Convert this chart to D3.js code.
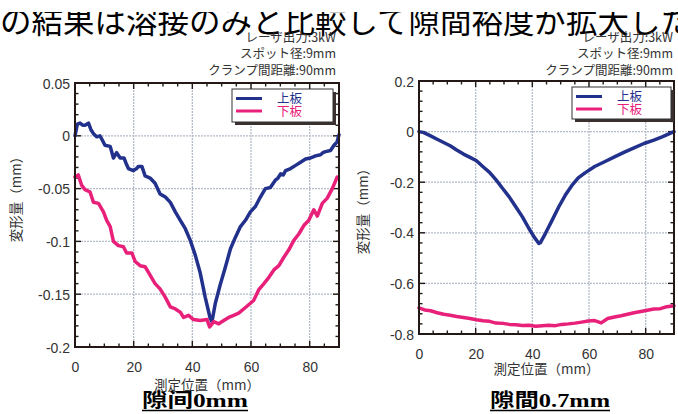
<!DOCTYPE html>
<html><head><meta charset="utf-8">
<script src="https://cdn.jsdelivr.net/npm/d3@7"></script>
<style>html,body{margin:0;padding:0;background:#fff;overflow:hidden}</style>
</head><body>
<svg id="c" width="678" height="414"></svg>
<script>
// ---------- data ----------
const headline = "の結果は溶接のみと比較して隙間裕度が拡大した";
const notes = ["レーザ出力:3kW", "スポット径:9mm", "クランプ間距離:90mm"];
const seriesNames = ["上板", "下板"];
const xTickValues = [0, 20, 40, 60, 80];
const yTicksLeft = [0.05, 0, -0.05, -0.1, -0.15, -0.2];
const yTicksRight = [0.2, 0, -0.2, -0.4, -0.6, -0.8];
const xTitle = "測定位置（mm）";
const yTitle = "変形量（mm）";
const captions = ["隙间0mm", "隙間0.7mm"];

// gap 0 mm : upper plate
const upper0 = [[0,0],[0.8,0.011],[1.7,0.012],[2.6,0.01],[3.4,0.01],[4.6,0.012],[5.4,0.006],[6.3,0.002],[7.4,-0.001],[8.5,0],[9.3,-0.004],[10.2,-0.009],[12,-0.01],[13.1,-0.021],[14.2,-0.016],[15.4,-0.021],[16.7,-0.021],[17.4,-0.026],[18.2,-0.031],[19.9,-0.033],[21,-0.031],[21.6,-0.029],[22.8,-0.029],[23.9,-0.038],[25.6,-0.04],[27.3,-0.045],[29,-0.055],[30.8,-0.058],[32.5,-0.063],[34.2,-0.072],[35.9,-0.08],[37.6,-0.088],[39.3,-0.099],[41,-0.113],[42.7,-0.13],[44.4,-0.153],[46.1,-0.173],[46.7,-0.176],[47.8,-0.159],[49.5,-0.141],[51.3,-0.124],[53,-0.107],[54.7,-0.096],[56.4,-0.086],[58.1,-0.08],[59.8,-0.072],[61.5,-0.067],[63.2,-0.058],[64.9,-0.05],[66.6,-0.049],[68.3,-0.042],[69.2,-0.04],[70.1,-0.036],[71,-0.037],[71.8,-0.033],[73.5,-0.031],[75.2,-0.028],[76.9,-0.025],[78.6,-0.022],[80.3,-0.021],[81.2,-0.02],[82,-0.019],[83.7,-0.018],[84.5,-0.016],[85.4,-0.015],[87.1,-0.014],[88.3,-0.009],[89.3,-0.006],[90,0.001]];
// gap 0 mm : lower plate
const lower0 = [[0,-0.039],[1.1,-0.037],[2.3,-0.047],[3.4,-0.051],[5.1,-0.053],[6.3,-0.063],[8,-0.064],[9.7,-0.072],[10.8,-0.08],[12,-0.086],[13.1,-0.1],[14.8,-0.104],[16.5,-0.105],[17.6,-0.111],[19.4,-0.111],[20.5,-0.119],[22.2,-0.123],[23.9,-0.124],[25.6,-0.132],[27.3,-0.14],[29,-0.145],[30.8,-0.153],[32.5,-0.162],[34.2,-0.164],[35.9,-0.167],[37,-0.172],[38.7,-0.17],[40.4,-0.174],[42.7,-0.175],[45,-0.174],[45.9,-0.181],[47.3,-0.176],[49,-0.178],[50.7,-0.175],[52.4,-0.172],[54.1,-0.17],[55.8,-0.168],[57.5,-0.164],[59.2,-0.16],[60.9,-0.156],[62.6,-0.146],[64.4,-0.14],[66.1,-0.134],[67.8,-0.127],[69.5,-0.123],[71.2,-0.115],[72.9,-0.108],[74.6,-0.099],[76.3,-0.093],[78,-0.085],[79.7,-0.08],[81.4,-0.07],[82.6,-0.076],[84.3,-0.064],[86,-0.059],[87.7,-0.05],[89.4,-0.039]];
// gap 0.7 mm : upper plate
const upper07 = [[0,0],[1.7,-0.004],[4.1,-0.017],[6.4,-0.03],[8.7,-0.043],[11,-0.056],[13.3,-0.073],[15.7,-0.089],[18,-0.102],[20.3,-0.115],[22.6,-0.139],[24.9,-0.161],[27.2,-0.191],[29.6,-0.226],[31.9,-0.259],[34.2,-0.298],[36.5,-0.337],[38.8,-0.383],[40.6,-0.416],[42.3,-0.442],[42.9,-0.438],[44.6,-0.403],[47,-0.35],[49.3,-0.298],[51.6,-0.252],[53.9,-0.214],[56.2,-0.183],[58.6,-0.163],[62,-0.138],[65.5,-0.119],[69,-0.1],[72.5,-0.081],[75.9,-0.064],[79.4,-0.047],[82.9,-0.034],[85.8,-0.021],[88,-0.01],[90,0]];
// gap 0.7 mm : lower plate
const lower07 = [[0,-0.697],[2,-0.705],[4.1,-0.708],[6.4,-0.716],[8.7,-0.722],[11,-0.726],[13.3,-0.731],[15.7,-0.735],[18,-0.739],[20.3,-0.744],[22.6,-0.748],[24.9,-0.75],[27.2,-0.757],[29.6,-0.758],[31.9,-0.762],[34.2,-0.763],[36.5,-0.766],[38.8,-0.765],[41.2,-0.769],[43.5,-0.767],[45.8,-0.765],[48.1,-0.767],[50.4,-0.762],[52.7,-0.76],[55.1,-0.757],[57.4,-0.753],[59.7,-0.749],[62,-0.747],[64.3,-0.756],[66.6,-0.739],[69,-0.733],[71.3,-0.728],[73.6,-0.722],[75.9,-0.716],[78.3,-0.711],[80.6,-0.706],[82.9,-0.701],[85.2,-0.7],[87.5,-0.692],[90,-0.688]];

// ---------- drawing ----------
const svg = d3.select("#c");
const colors = ["#22318c", "#e8207a"];
const frameColor = "#231815";
const textColor = "#333";

// headline (clipped at top, as in the source image)
svg.append("text").attr("x", 0).attr("y", 32.5)
  .attr("font-family", "'Noto Sans CJK JP'").attr("font-size", 31.5)
  .attr("fill", "#000").text(headline);
svg.append("rect").attr("x", 0).attr("y", 0).attr("width", 678).attr("height", 12).attr("fill", "#fff");

function panel(cfg) {
  const x = d3.scaleLinear().domain([0, 90]).range(cfg.xr);
  const y = d3.scaleLinear().domain(cfg.yd).range(cfg.yr);
  const g = svg.append("g");
  const [x0, x1] = cfg.xr, [y0, y1] = cfg.yr; // y0 bottom, y1 top

  // notes
  notes.forEach((t, i) => {
    g.append("text").attr("x", cfg.noteX).attr("y", 42 + i * 16.3)
      .attr("text-anchor", "end").attr("font-family", "'Noto Sans CJK JP'")
      .attr("font-size", 12.5).attr("fill", textColor).text(t);
  });

  // grid
  const grid = g.append("g").attr("stroke", "#b3bcc7").attr("stroke-width", 1.3)
    .attr("stroke-dasharray", "2,1");
  xTickValues.filter(v => v > 0).forEach(v => {
    grid.append("line").attr("x1", x(v)).attr("x2", x(v)).attr("y1", y0).attr("y2", y1);
  });
  cfg.yTicks.forEach(v => {
    if (y(v) > y1 + 1 && y(v) < y0 - 1)
      grid.append("line").attr("x1", x0).attr("x2", x1).attr("y1", y(v)).attr("y2", y(v));
  });

  // minor/major ticks (inward, all four sides)
  const tk = g.append("g").attr("stroke", frameColor).attr("stroke-width", 1.4);
  d3.range(0, 91, 5).forEach(v => {
    const L = v % 20 === 0 ? 6 : 3.5;
    tk.append("line").attr("x1", x(v)).attr("x2", x(v)).attr("y1", y0).attr("y2", y0 - L);
    tk.append("line").attr("x1", x(v)).attr("x2", x(v)).attr("y1", y1).attr("y2", y1 + L);
  });
  const [ylo, yhi] = [d3.min(cfg.yd), d3.max(cfg.yd)];
  const nMinor = Math.round((yhi - ylo) / cfg.minorY);
  for (let i = 0; i <= nMinor; i++) {
    const v = ylo + i * cfg.minorY;
    const major = cfg.yTicks.some(t => Math.abs(t - v) < 1e-6);
    const L = major ? 6 : 3.5;
    tk.append("line").attr("x1", x0).attr("x2", x0 + L).attr("y1", y(v)).attr("y2", y(v));
    tk.append("line").attr("x1", x1).attr("x2", x1 - L).attr("y1", y(v)).attr("y2", y(v));
  }

  // series lines
  const line = d3.line().x(d => x(d[0])).y(d => y(d[1]));
  cfg.series.forEach((s, i) => {
    g.append("path").datum(s).attr("d", line).attr("fill", "none")
      .attr("stroke", colors[i]).attr("stroke-width", 3.5)
      .attr("stroke-linejoin", "round").attr("stroke-linecap", "round");
  });

  // frame
  g.append("rect").attr("x", x0).attr("y", y1).attr("width", x1 - x0).attr("height", y0 - y1)
    .attr("fill", "none").attr("stroke", frameColor).attr("stroke-width", 2);

  // axes labels via d3 axes (tick lines hidden)
  const ax = d3.axisBottom(x).tickValues(xTickValues).tickSize(0).tickPadding(0);
  const axg = g.append("g").attr("transform", `translate(0,${y0 + 15})`).call(ax);
  axg.select(".domain").remove();
  axg.selectAll("text").attr("font-family", "'Liberation Sans', Arial").attr("font-size", 14)
    .attr("fill", textColor);
  const ay = d3.axisLeft(y).tickValues(cfg.yTicks).tickSize(0).tickPadding(5)
    .tickFormat(d => String(+d.toFixed(2)));
  const ayg = g.append("g").attr("transform", `translate(${x0},0)`).call(ay);
  ayg.select(".domain").remove();
  ayg.selectAll("text").attr("font-family", "'Liberation Sans', Arial").attr("font-size", 14)
    .attr("fill", textColor).attr("dy", "0.36em");

  // axis titles
  g.append("text").attr("x", (x0 + x1) / 2).attr("y", cfg.xTitleY).attr("text-anchor", "middle")
    .attr("font-family", "'Noto Sans CJK JP'").attr("font-size", 13.5).attr("fill", textColor).text(xTitle);
  g.append("text").attr("transform", `translate(${cfg.yTitleX},${cfg.yTitleY}) rotate(-90)`)
    .attr("text-anchor", "middle").attr("dy", "0.35em")
    .attr("font-family", "'Noto Sans CJK JP'").attr("font-size", 13.5).attr("fill", textColor).text(yTitle);

  // legend
  const lg = cfg.legend;
  g.append("rect").attr("x", lg.x + 3).attr("y", lg.y + 3).attr("width", lg.w).attr("height", lg.h)
    .attr("fill", "#3a3030");
  g.append("rect").attr("x", lg.x).attr("y", lg.y).attr("width", lg.w).attr("height", lg.h)
    .attr("fill", "#fff").attr("stroke", "#333").attr("stroke-width", 1);
  seriesNames.forEach((n, i) => {
    const yy = lg.y + 9.5 + i * 12.5;
    g.append("line").attr("x1", lg.x + 4).attr("x2", lg.x + 30).attr("y1", yy).attr("y2", yy)
      .attr("stroke", colors[i]).attr("stroke-width", 3);
    g.append("text").attr("x", lg.x + 45).attr("y", yy).attr("dy", "0.36em")
      .attr("font-family", "'Noto Sans CJK JP'").attr("font-size", 12.5)
      .attr("fill", colors[i]).text(n);
  });

  // caption
  g.append("text").attr("x", cfg.capX).attr("y", 407).attr("text-anchor", "middle")
    .attr("font-family", "'Liberation Serif', 'Noto Sans CJK JP'").attr("font-weight", "bold")
    .attr("font-size", 19).attr("fill", "#000")
    .attr("textLength", cfg.capW).attr("lengthAdjust", "spacingAndGlyphs").text(cfg.caption);
  g.append("line").attr("x1", cfg.capX - cfg.capW / 2).attr("x2", cfg.capX + cfg.capW / 2)
    .attr("y1", 410.5).attr("y2", 410.5).attr("stroke", "#000").attr("stroke-width", 1.6);
}

panel({
  xr: [75, 339], yr: [347, 83], yd: [-0.2, 0.05], yTicks: yTicksLeft, minorY: 0.01,
  series: [upper0, lower0], noteX: 336, xTitleY: 390, yTitleX: 16, yTitleY: 196,
  legend: {x: 232, y: 89, w: 101, h: 33}, caption: captions[0], capX: 195, capW: 106
});
panel({
  xr: [419, 674], yr: [334, 81], yd: [-0.8, 0.2], yTicks: yTicksRight, minorY: 0.04,
  series: [upper07, lower07], noteX: 673, xTitleY: 374, yTitleX: 363, yTitleY: 208,
  legend: {x: 572, y: 87, w: 99, h: 32}, caption: captions[1], capX: 550, capW: 120
});
</script>
</body></html>
